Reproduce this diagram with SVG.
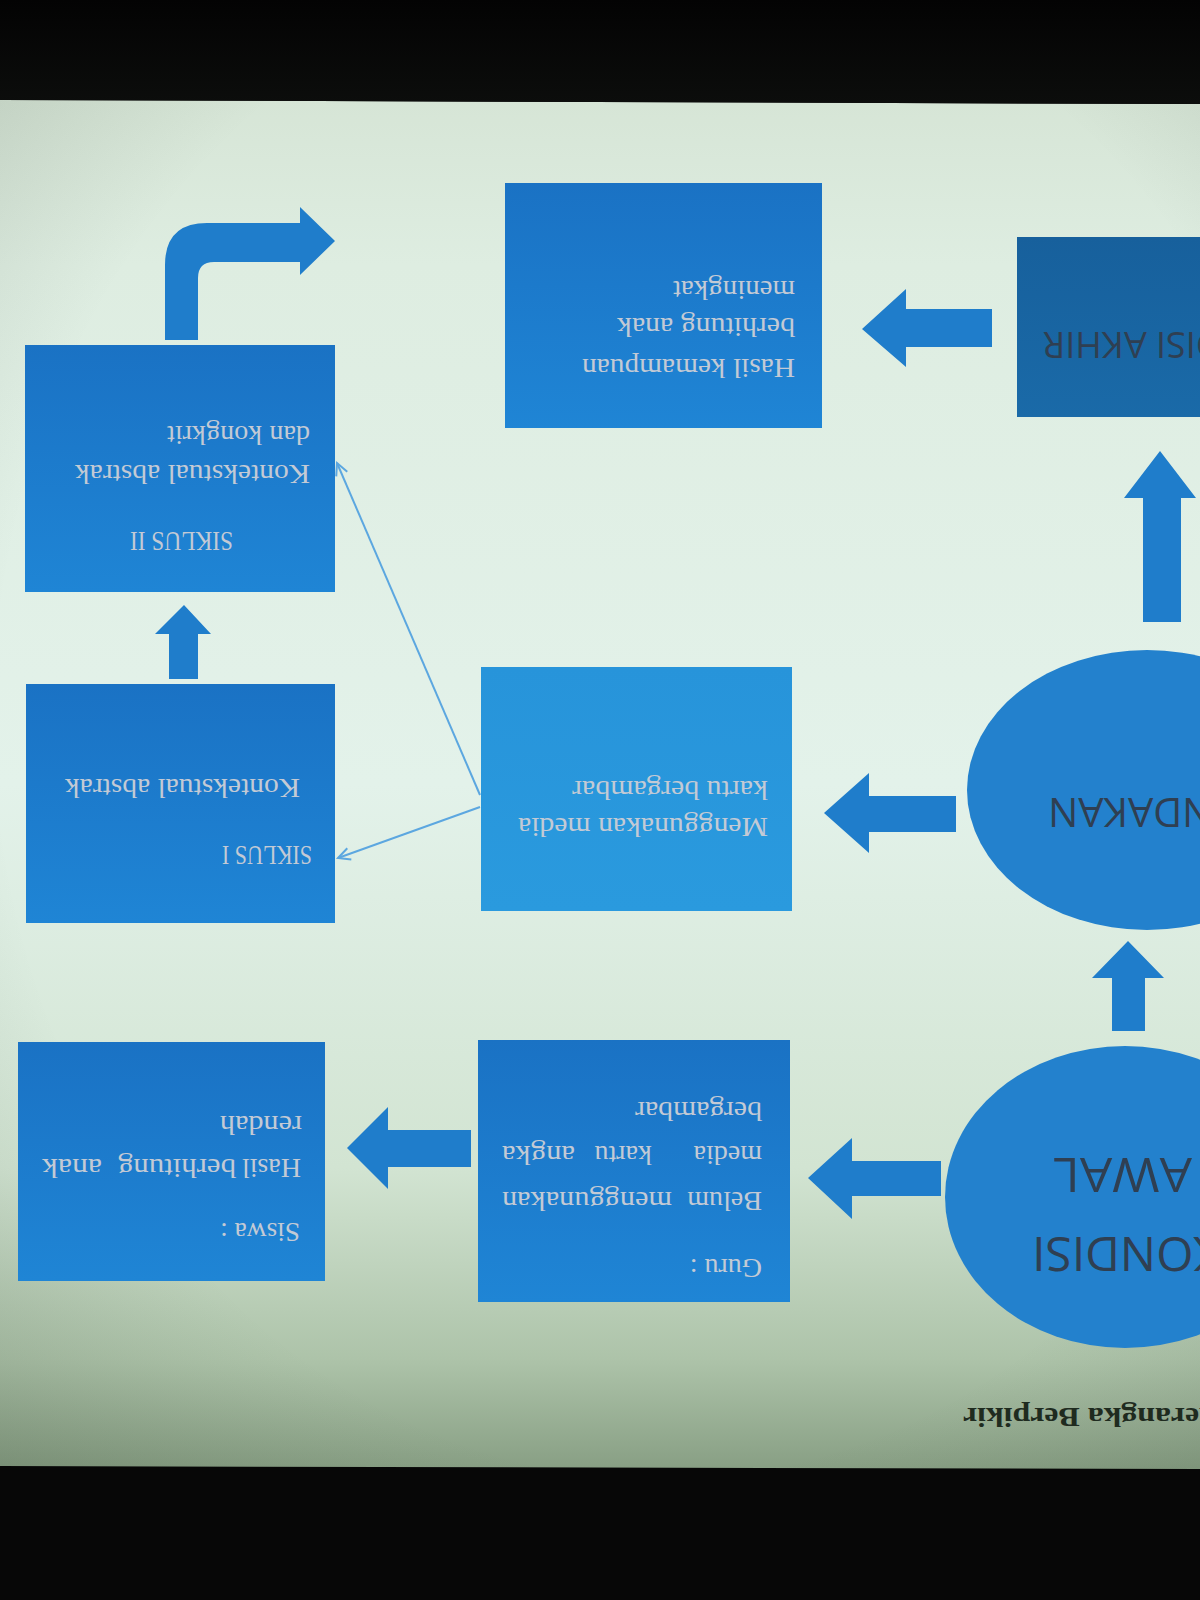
<svg xmlns="http://www.w3.org/2000/svg" width="1200" height="1600" viewBox="0 0 1200 1600">
<defs>
<linearGradient id="page" x1="0" y1="0" x2="0" y2="1">
<stop offset="0" stop-color="#d6e5d6"/>
<stop offset="0.12" stop-color="#deede1"/>
<stop offset="0.5" stop-color="#e3f2ea"/>
<stop offset="0.78" stop-color="#d2e4d2"/>
<stop offset="0.92" stop-color="#adc3a9"/>
<stop offset="1" stop-color="#889f84"/>
</linearGradient>
<radialGradient id="vig" cx="0.55" cy="0.45" r="0.85">
<stop offset="0.65" stop-color="#1b2a1b" stop-opacity="0"/>
<stop offset="1" stop-color="#1b2a1b" stop-opacity="0.18"/>
</radialGradient>
<linearGradient id="box" x1="0" y1="0" x2="0" y2="1">
<stop offset="0" stop-color="#1a72c4"/>
<stop offset="1" stop-color="#1f85d5"/>
</linearGradient>
<linearGradient id="boxL" x1="0" y1="0" x2="0" y2="1">
<stop offset="0" stop-color="#2794da"/>
<stop offset="1" stop-color="#2a9ade"/>
</linearGradient>
<linearGradient id="boxD" x1="0" y1="0" x2="0" y2="1">
<stop offset="0" stop-color="#17609c"/>
<stop offset="1" stop-color="#1a6aa8"/>
</linearGradient>
<linearGradient id="topband" x1="0" y1="0" x2="0" y2="1">
<stop offset="0" stop-color="#030303"/>
<stop offset="1" stop-color="#0c0d0c"/>
</linearGradient>
<marker id="chev" viewBox="0 0 16 16" refX="14" refY="8" markerWidth="16" markerHeight="16" orient="auto" markerUnits="userSpaceOnUse">
<path d="M2,2 L14,8 L2,14" fill="none" stroke="#5ca7e0" stroke-width="2"/>
</marker>
</defs>
<style>
.bt{font-family:"Liberation Serif","Times New Roman",serif;font-size:28px;fill:#c3cad5;}
.ht{font-family:"Open Sans","Liberation Sans",sans-serif;fill:#2f3f52;}
.blk{fill:url(#box);}
.arr{fill:#1f7dcb;}
.cir{fill:#2381cd;}
.thin{stroke:#5ca7e0;stroke-width:2;fill:none;marker-end:url(#chev);}
</style>

<!-- photo background -->
<rect x="0" y="0" width="1200" height="1600" fill="#070707"/>
<polygon points="0,100 1200,104 1200,1469 0,1466" fill="url(#page)"/>
<polygon points="0,100 1200,104 1200,1469 0,1466" fill="url(#vig)"/>
<polygon points="0,0 1200,0 1200,104 0,100" fill="url(#topband)"/>

<!-- nodes -->
<g id="kondisi-awal">
<ellipse class="cir" cx="1125" cy="1197" rx="180" ry="151"/>
<text class="ht" font-size="48" text-anchor="end" transform="translate(1032,1237) rotate(180)">KONDISI</text>
<text class="ht" font-size="48" text-anchor="end" transform="translate(1053,1158) rotate(180)" textLength="139" lengthAdjust="spacingAndGlyphs">AWAL</text>
</g>

<g id="tindakan">
<ellipse class="cir" cx="1147" cy="790" rx="180" ry="140"/>
<text class="ht" font-size="40" text-anchor="end" transform="translate(1048,798) rotate(180)">TINDAKAN</text>
</g>

<g id="kondisi-akhir">
<rect x="1017" y="237" width="200" height="180" fill="url(#boxD)"/>
<text class="ht" font-size="36" text-anchor="end" transform="translate(1043,332) rotate(180)">KONDISI AKHIR</text>
</g>

<g id="guru">
<rect class="blk" x="478" y="1040" width="312" height="262"/>
<text class="bt" transform="translate(762,1259) rotate(180)">Guru :</text>
<text class="bt" transform="translate(762,1192) rotate(180)">Belum</text>
<text class="bt" text-anchor="end" transform="translate(502,1192) rotate(180)" textLength="170" lengthAdjust="spacingAndGlyphs">menggunakan</text>
<text class="bt" transform="translate(762,1146) rotate(180)">media</text>
<text class="bt" transform="translate(652,1146) rotate(180)">kartu</text>
<text class="bt" text-anchor="end" transform="translate(502,1146) rotate(180)" textLength="73" lengthAdjust="spacingAndGlyphs">angka</text>
<text class="bt" transform="translate(762,1102) rotate(180)" textLength="127" lengthAdjust="spacingAndGlyphs">bergambar</text>
</g>

<g id="siswa">
<rect class="blk" x="18" y="1042" width="307" height="239"/>
<text class="bt" transform="translate(300,1223) rotate(180)" textLength="80" lengthAdjust="spacingAndGlyphs">Siswa :</text>
<text class="bt" transform="translate(301,1159) rotate(180)">Hasil</text>
<text class="bt" transform="translate(236,1159) rotate(180)" textLength="118" lengthAdjust="spacingAndGlyphs">berhitung</text>
<text class="bt" text-anchor="end" transform="translate(42,1159) rotate(180)" textLength="60" lengthAdjust="spacingAndGlyphs">anak</text>
<text class="bt" transform="translate(302,1116) rotate(180)" textLength="82" lengthAdjust="spacingAndGlyphs">rendah</text>
</g>

<g id="menggunakan">
<rect x="481" y="667" width="311" height="244" fill="url(#boxL)"/>
<text class="bt" transform="translate(768,818) rotate(180)" textLength="250" lengthAdjust="spacingAndGlyphs">Menggunakan media</text>
<text class="bt" transform="translate(768,781) rotate(180)" textLength="196" lengthAdjust="spacingAndGlyphs">kartu bergambar</text>
</g>

<g id="siklus-1">
<rect class="blk" x="26" y="684" width="309" height="239"/>
<text class="bt" transform="translate(312,846) rotate(180)" textLength="90" lengthAdjust="spacingAndGlyphs">SIKLUS I</text>
<text class="bt" transform="translate(300,779) rotate(180)" textLength="235" lengthAdjust="spacingAndGlyphs">Kontekstual abstrak</text>
</g>

<g id="siklus-2">
<rect class="blk" x="25" y="345" width="310" height="247"/>
<text class="bt" transform="translate(233,532) rotate(180)" textLength="103" lengthAdjust="spacingAndGlyphs">SIKLUS II</text>
<text class="bt" transform="translate(310,465) rotate(180)" textLength="235" lengthAdjust="spacingAndGlyphs">Kontekstual abstrak</text>
<text class="bt" transform="translate(310,426) rotate(180)" textLength="143" lengthAdjust="spacingAndGlyphs">dan kongkrit</text>
</g>

<g id="hasil">
<rect class="blk" x="505" y="183" width="317" height="245"/>
<text class="bt" transform="translate(795,359) rotate(180)" textLength="213" lengthAdjust="spacingAndGlyphs">Hasil kemampuan</text>
<text class="bt" transform="translate(795,318) rotate(180)" textLength="178" lengthAdjust="spacingAndGlyphs">berhitung anak</text>
<text class="bt" transform="translate(795,281) rotate(180)" textLength="122" lengthAdjust="spacingAndGlyphs">meningkat</text>
</g>

<!-- connectors -->
<g id="connectors">
<polygon class="arr" points="941,1161 852,1161 852,1138 808,1178 852,1219 852,1196 941,1196"/>
<polygon class="arr" points="471,1130 388,1130 388,1107 347,1148 388,1189 388,1167 471,1167"/>
<polygon class="arr" points="1112,1031 1112,978 1092,978 1128,941 1164,978 1145,978 1145,1031"/>
<polygon class="arr" points="956,796 869,796 869,773 824,813 869,853 869,832 956,832"/>
<polygon class="arr" points="1143,622 1143,498 1124,498 1160,451 1196,498 1181,498 1181,622"/>
<polygon class="arr" points="992,309 906,309 906,289 862,329 906,367 906,347 992,347"/>
<polygon class="arr" points="169,679 169,634 155,634 184,605 211,634 198,634 198,679"/>
<path class="arr" d="M165,340 L165,265 Q165,223 207,223 L300,223 L300,207 L335,241 L300,275 L300,262 L214,262 Q198,262 198,278 L198,340 Z"/>
<line class="thin" x1="480" y1="795" x2="337" y2="463"/>
<line class="thin" x1="480" y1="807" x2="338" y2="858"/>
</g>

<text font-family="Liberation Serif, serif" font-weight="bold" font-size="27" fill="#1f2b1f" text-anchor="end" transform="translate(963,1408) rotate(180)" textLength="261" lengthAdjust="spacingAndGlyphs">Kerangka Berpikir</text>
</svg>
